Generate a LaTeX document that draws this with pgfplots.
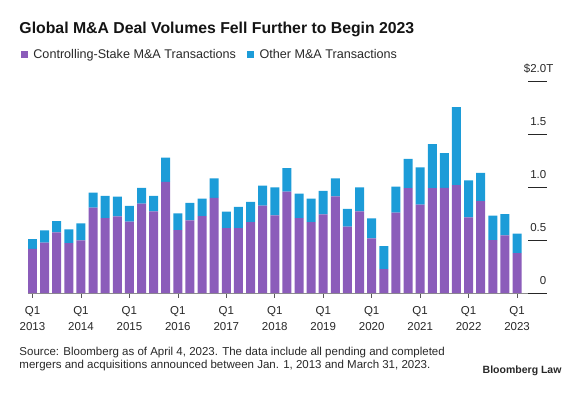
\documentclass[border=0pt]{standalone}
\usepackage{pgfplots}
\pgfplotsset{compat=1.18}
\usepackage{fontspec}
\setmainfont{Liberation Sans}
\definecolor{cpurple}{RGB}{139,92,186}
\definecolor{cblue}{RGB}{28,156,216}
\definecolor{ctext}{RGB}{40,40,40}
\pgfplotstableread{
x purple other
0 0.417 0.092
1 0.477 0.114
2 0.572 0.108
3 0.471 0.130
4 0.496 0.162
5 0.806 0.143
6 0.708 0.209
7 0.724 0.187
8 0.674 0.148
9 0.844 0.149
10 0.772 0.145
11 1.050 0.228
12 0.595 0.158
13 0.686 0.165
14 0.727 0.165
15 0.898 0.184
16 0.614 0.155
17 0.614 0.199
18 0.670 0.190
19 0.825 0.190
20 0.734 0.265
21 0.958 0.222
22 0.708 0.231
23 0.670 0.222
24 0.743 0.222
25 0.914 0.168
26 0.626 0.168
27 0.772 0.227
28 0.516 0.189
29 0.225 0.218
30 0.759 0.247
31 0.990 0.278
32 0.835 0.351
33 0.990 0.417
34 0.993 0.329
35 1.018 0.737
36 0.715 0.348
37 0.867 0.268
38 0.500 0.231
39 0.544 0.202
40 0.376 0.184
}\datatable
\begin{document}
\begin{tikzpicture}
\path[use as bounding box] (0,0) rectangle (579pt,-398pt);
\begin{axis}[
  at={(28pt,-293pt)}, anchor=south west,
  scale only axis, width=518.5pt, height=211.7pt,
  xmin=-0.37, xmax=42.43, ymin=0, ymax=2,
  ybar stacked, bar width=9pt,
  axis x line*=bottom, axis y line*=right,
  y axis line style={draw=none},
  x axis line style={draw=black!45, line width=0.6pt},
  xtick={0,4,...,40},
  xticklabels={{Q1\\2013},{Q1\\2014},{Q1\\2015},{Q1\\2016},{Q1\\2017},{Q1\\2018},{Q1\\2019},{Q1\\2020},{Q1\\2021},{Q1\\2022},{Q1\\2023}},
  xtick align=outside,
  xtick style={draw=black!65, line width=0.6pt, /pgfplots/major tick length=4.5pt},
  xticklabel style={align=center, font=\fontsize{11.5}{15.7}\selectfont, text=ctext, inner sep=0pt, yshift=-9.5pt},
  ytick={0,0.5,1,1.5,2},
  yticklabels={0,0.5,1.0,1.5,\$2.0\rlap{T}},
  ytick style={draw=none},
  yticklabel style={anchor=south east, inner sep=0pt, yshift=8pt, font=\fontsize{11.5}{13}\selectfont, text=ctext},
  /pgf/number format/assume math mode=true,
  minor tick num=0,
  legend columns=2,
  legend style={at={(0,1)}, anchor=west, xshift=-7.3pt, yshift=27pt, draw=none, fill=none, inner sep=0pt,
    font=\fontsize{12.6}{14}\selectfont, text=ctext,
    /tikz/every even column/.append style={column sep=9pt}},
  legend cell align=left,
  legend image code/.code={\fill[#1] (0pt,-3.7pt) rectangle (7.4pt,3.7pt); \path (10.5pt,0pt);},
]
\addplot[fill=cpurple, draw=none] table[x=x, y=purple] {\datatable};
\addplot[fill=cblue, draw=none] table[x=x, y=other] {\datatable};
\legend{Controlling-Stake M\&A Transactions, Other M\&A Transactions}
\end{axis}
% short tick lines of the value scale, at the right end of the plot
\foreach \v in {0,0.5,1,1.5,2}
  \draw[black!85, line width=0.8pt] (528pt,{-293pt+\v*105.85pt}) -- (546.5pt,{-293pt+\v*105.85pt});
\node[anchor=base west, inner sep=0pt, font=\bfseries\fontsize{15.8}{19}\selectfont, text=black!92] at (19.3pt,-33.3pt) {Global M\&A Deal Volumes Fell Further to Begin 2023};
\node[anchor=base west, inner sep=0pt, font=\fontsize{11.5}{13}\selectfont, text=ctext] at (19.3pt,-355.7pt) {Source: Bloomberg as of April 4, 2023. The data include all pending and completed};
\node[anchor=base west, inner sep=0pt, font=\fontsize{11.5}{13}\selectfont, text=ctext] at (19.3pt,-368.4pt) {mergers and acquisitions announced between Jan. 1, 2013 and March 31, 2023.};
\node[anchor=base east, inner sep=0pt, font=\bfseries\fontsize{10.5}{12}\selectfont, text=ctext] at (561.7pt,-373.3pt) {Bloomberg Law};
\end{tikzpicture}
\end{document}
